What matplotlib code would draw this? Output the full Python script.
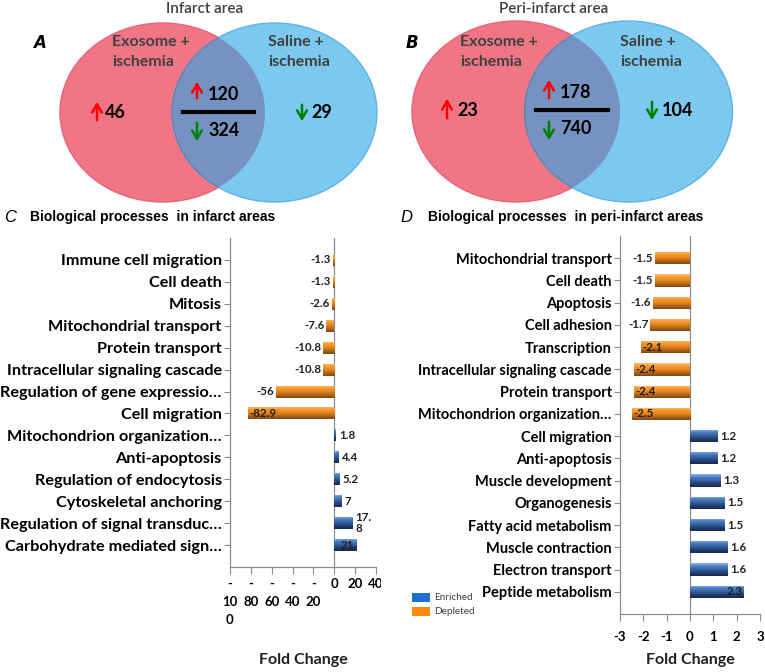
import numpy as np
import matplotlib
matplotlib.use("Agg")
import matplotlib.pyplot as plt
from matplotlib.patches import Ellipse, Rectangle
from matplotlib.colors import LinearSegmentedColormap
from matplotlib.transforms import Bbox

# ---------------- data ----------------
venn_a_counts = {"left_up": 46, "mid_up": 120, "mid_down": 324, "right_down": 29}
venn_b_counts = {"left_up": 23, "mid_up": 178, "mid_down": 740, "right_down": 104}

cats_c = ["Immune cell migration", "Cell death", "Mitosis", "Mitochondrial transport",
          "Protein transport", "Intracellular signaling cascade",
          "Regulation of gene expressio\u2026", "Cell migration",
          "Mitochondrion organization\u2026", "Anti-apoptosis", "Regulation of endocytosis",
          "Cytoskeletal anchoring", "Regulation of signal transduc\u2026",
          "Carbohydrate mediated sign\u2026"]
vals_c = [-1.3, -1.3, -2.6, -7.6, -10.8, -10.8, -56, -82.9, 1.8, 4.4, 5.2, 7, 17.8, 21.8]
labels_c = ["-1.3", "-1.3", "-2.6", "-7.6", "-10.8", "-10.8", "-56", "-82.9",
            "1.8", "4.4", "5.2", "7", "17.\n8", "21."]
ticks_c = [-100, -80, -60, -40, -20, 0, 20, 40]
ticklabels_c = ["-\n10\n0", "-\n80", "-\n60", "-\n40", "-\n20", "0", "20", "40"]

cats_d = ["Mitochondrial transport", "Cell death", "Apoptosis", "Cell adhesion",
          "Transcription", "Intracellular signaling cascade", "Protein transport",
          "Mitochondrion organization\u2026", "Cell migration", "Anti-apoptosis",
          "Muscle development", "Organogenesis", "Fatty acid metabolism",
          "Muscle contraction", "Electron transport", "Peptide metabolism"]
vals_d = [-1.5, -1.5, -1.6, -1.7, -2.1, -2.4, -2.4, -2.5, 1.2, 1.2, 1.3, 1.5, 1.5, 1.6, 1.6, 2.3]
labels_d = [f"{v:g}" for v in vals_d]
ticks_d = [-3, -2, -1, 0, 1, 2, 3]

# ---------------- style ----------------
FONT = ["Lato", "DejaVu Sans"]
W, H = 765, 672
fig = plt.figure(figsize=(W / 100, H / 100), dpi=100)

RED = "#F07686"
BLUE = "#7CC8EE"
OVER = "#7592C0"
GRAY_T = "#404040"

ov = fig.add_axes([0, 0, 1, 1])
ov.set_xlim(0, W)
ov.set_ylim(H, 0)
ov.axis("off")


def venn(cx_red, cx_blue, cy, w, h, title, title_x, letter, letter_x,
         exo_x, sal_x, counts, pos):
    r = Ellipse((cx_red, cy), w, h, facecolor=RED, edgecolor="#E86478", lw=1, zorder=1)
    b = Ellipse((cx_blue, cy), w, h, facecolor=BLUE, edgecolor="#5DB4E4", lw=1, zorder=2)
    ov.add_patch(r)
    ov.add_patch(b)
    o = Ellipse((cx_blue, cy), w, h, facecolor=OVER, edgecolor="#6A80B0", lw=1, zorder=3)
    ov.add_patch(o)
    o.set_clip_path(r)
    ov.text(title_x, 9, title, ha="center", va="center", fontsize=11,
            color=GRAY_T, family=FONT, fontweight="semibold")
    ov.text(letter_x, 43, letter, ha="center", va="center", fontsize=12,
            fontstyle="italic", fontweight="bold", family=["DejaVu Sans"], color="black")
    for x, t1 in ((exo_x, "Exosome +"), (sal_x, "Saline +")):
        ov.text(x, 42, t1, ha="left", va="center", fontsize=11.5, color=GRAY_T,
                family=FONT, fontweight="bold", zorder=5)
        ov.text(x, 62, "ischemia", ha="left", va="center", fontsize=11.5, color=GRAY_T,
                family=FONT, fontweight="bold", zorder=5)
    for key, (ax_x, y0, y1, num_x, num_y, col) in pos.items():
        ov.annotate("", xy=(ax_x, y1), xytext=(ax_x, y0),
                    arrowprops=dict(arrowstyle="->,head_length=0.6,head_width=0.35",
                                    color=col, lw=1.8), zorder=6)
        ov.text(num_x, num_y, str(counts[key]), ha="left", va="center", fontsize=13,
                fontweight="bold", family=FONT, color="black", zorder=6)


RU, GD = "#FF0000", "#008000"
venn(162.5, 274.5, 112.5, 205, 179, "Infarct area", 205, "A", 40, 112, 268,
     venn_a_counts,
     {"left_up": (97, 123, 99, 105, 113, RU),
      "mid_up": (197, 101, 79, 208, 95, RU),
      "mid_down": (197, 120, 144, 208, 130, GD),
      "right_down": (302, 102, 124, 311, 113, GD)})
ov.plot([183, 254], [112, 112], color="black", lw=3, zorder=6)

venn(516, 628.5, 111.5, 208, 181, "Peri-infarct area", 554, "B", 412, 460, 620,
     venn_b_counts,
     {"left_up": (447, 121, 96, 457, 111, RU),
      "mid_up": (549, 101, 77, 560, 93, RU),
      "mid_down": (549, 119, 143, 560, 129, GD),
      "right_down": (652, 99, 123, 662, 111, GD)})
ov.plot([536, 608], [110, 110], color="black", lw=3, zorder=6)

# panel titles
for lx, tx, let, txt in ((10, 30, "C", "Biological processes  in infarct areas"),
                         (406, 428, "D", "Biological processes  in peri-infarct areas")):
    ov.text(lx, 217, let, ha="center", va="center", fontsize=12,
            fontstyle="italic", family=["Liberation Sans"], color="black")
    ov.text(tx, 217, txt, ha="left", va="center", fontsize=10, fontweight="bold",
            family=["Liberation Sans"], color="black")

# legend
ov.add_patch(Rectangle((412, 593), 18, 9, facecolor="#1F6FD0", edgecolor="none"))
ov.add_patch(Rectangle((412, 607), 18, 9, facecolor="#FF8A10", edgecolor="none"))
ov.text(434, 597.5, "Enriched", ha="left", va="center", fontsize=7.2, family=FONT, color=GRAY_T)
ov.text(434, 611.5, "Depleted", ha="left", va="center", fontsize=7.2, family=FONT, color=GRAY_T)

cm_orange = LinearSegmentedColormap.from_list(
    "or", ["#FCC07A", "#F59A2E", "#E8861C", "#B0661A", "#7E4810"])
cm_blue = LinearSegmentedColormap.from_list(
    "bl", ["#8AB4EA", "#4A7CC4", "#35609E", "#233F70", "#162A50"])
grad = np.linspace(0, 1, 64).reshape(-1, 1)


def barpanel(rect, cats, vals, labels, xlim, ticks, ticklabels, tick_pad, in_neg, in_pos, cat_fs):
    ax = fig.add_axes(rect)
    n = len(cats)
    ypos = np.arange(n)
    bars = ax.barh(ypos, vals, height=0.55, color=["#F0901E" if v < 0 else "#3E6FB8" for v in vals],
                   zorder=2)
    for bar, v in zip(bars, vals):
        x0, y0 = bar.get_x(), bar.get_y()
        w_, h_ = bar.get_width(), bar.get_height()
        im = ax.imshow(grad, cmap=cm_orange if v < 0 else cm_blue, origin="upper",
                       extent=(x0, x0 + w_, y0 + h_, y0), aspect="auto", zorder=3)
        im.set_clip_path(bar)
    span = xlim[1] - xlim[0]
    kw = dict(va="center", fontsize=8.3, family=FONT, fontweight="bold", color="#202020", zorder=5)
    for y, v, lab in zip(ypos, vals, labels):
        if v < 0:
            if v <= in_neg:
                ax.text(v + 0.01 * span, y, lab, ha="left", **kw)
            else:
                ax.text(v - 0.012 * span, y, lab, ha="right", **kw)
        else:
            if v >= in_pos:
                ax.text(v - 0.005 * span, y, lab, ha="right", **kw)
            else:
                ax.text(v + 0.018 * span, y, lab, ha="left", linespacing=1.05, **kw)
    ax.axvline(0, color="#8C8C8C", lw=0.9, zorder=1)
    ax.set_xlim(*xlim)
    ax.set_ylim(n, -1)
    ax.set_yticks(ypos)
    ax.set_yticklabels(cats, fontsize=cat_fs, fontweight="bold", family=FONT)
    ax.set_xticks(ticks)
    ax.set_xticklabels(ticklabels, fontsize=9.5, fontweight="bold", family=FONT,
                       linespacing=1.6, va="top")
    ax.tick_params(axis="y", length=4, width=0.8, color="#8C8C8C", pad=2)
    ax.tick_params(axis="x", length=5, width=0.8, color="#8C8C8C", pad=tick_pad)
    for s in ("top", "right"):
        ax.spines[s].set_visible(False)
    for s in ("left", "bottom"):
        ax.spines[s].set_color("#8C8C8C")
        ax.spines[s].set_linewidth(0.9)
    ax.set_facecolor("none")
    ax.set_xlabel("Fold Change", fontsize=11.5, fontweight="bold", family=FONT, color="#202020")
    return ax


axc = barpanel([230 / W, 1 - 567 / H, 146 / W, 329 / H], cats_c, vals_c, labels_c,
               (-100, 40), ticks_c, ticklabels_c, 3, -60, 20, 11.7)
axc.xaxis.set_label_coords(0.5, -0.262)
clipbox = Bbox([[0, 0], [381, H]])
for lab in axc.get_xticklabels():
    lab.set_clip_on(True)
    lab.set_clip_box(clipbox)

axd = barpanel([620 / W, 1 - 614 / H, 140 / W, 378 / H], cats_d, vals_d, labels_d,
               (-3, 3), ticks_d, [f"{t}" for t in ticks_d], 7, -2.0, 2.2, 10.5)
axd.xaxis.set_label_coords(0.5, -0.103)

fig.savefig("out.png", dpi=100)
